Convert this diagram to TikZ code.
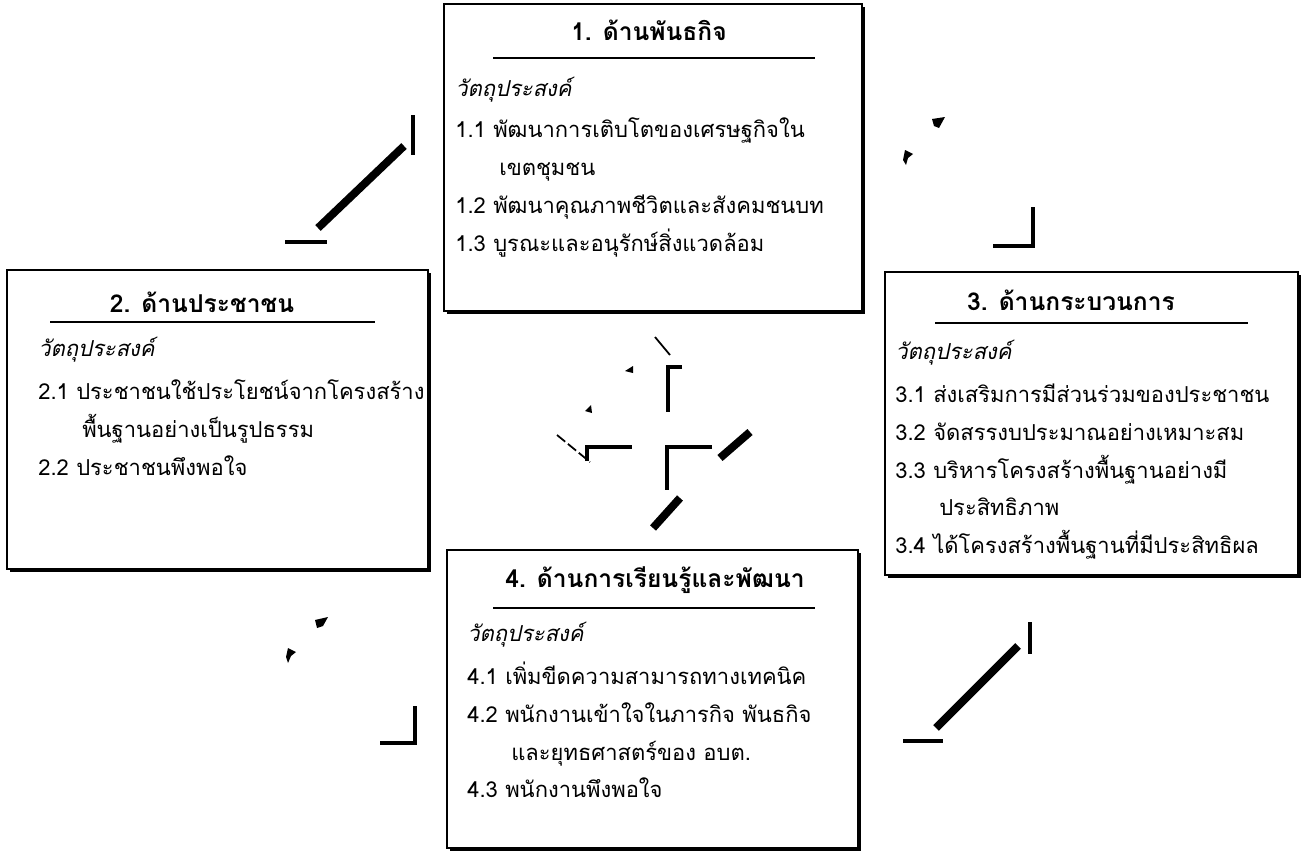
\documentclass[tikz,border=0pt]{standalone}
\usepackage{fontspec}
\newfontfamily\thaifont[Script=Thai]{Loma}
\usetikzlibrary{fit,shadows}
\tikzset{
  panel/.style={draw=black, fill=white, line width=0.8pt, inner sep=0pt,
                drop shadow={shadow xshift=1.8pt, shadow yshift=-1.8pt, fill=black, opacity=1}},
  head/.style={font=\thaifont\bfseries\fontsize{14}{16}\selectfont, inner sep=0pt},
  items/.style={font=\thaifont\fontsize{12.5}{21.5}\selectfont, align=left,
                anchor=north west, inner sep=0pt},
  rule/.style={line width=0.8pt},
  frag/.style={line width=4.5pt},
  stub/.style={line width=2.4pt},
  thinfrag/.style={line width=1pt}
}
\newcommand{\goal}{\textit{วัตถุประสงค์}}
\newcommand{\cont}{\hspace*{25pt}}

\begin{document}
\begin{tikzpicture}[x=0.02cm, y=-0.02cm]
  \useasboundingbox (0,0) rectangle (1307,855);

  % the four boxes
  \node[panel, fit={(444,4) (862,311)}] (mission) {};
  \node[panel, fit={(7,270) (428,569)}] (people) {};
  \node[panel, fit={(885,272) (1298,575)}] (process) {};
  \node[panel, fit={(447,550) (858,848)}] (learn) {};

  % box 1
  \node[head] (t1) at (649,30) {1. ด้านพันธกิจ};
  \draw[rule] (493,58) -- (815,58);
  \node[items] (g1) at (455,77) {\goal\\[2pt]
    1.1 พัฒนาการเติบโตของเศรษฐกิจใน\\
    \cont เขตชุมชน\\
    1.2 พัฒนาคุณภาพชีวิตและสังคมชนบท\\
    1.3 บูรณะและอนุรักษ์สิ่งแวดล้อม};

  % box 2
  \node[head] (t2) at (202,302) {2. ด้านประชาชน};
  \draw[rule] (50,322) -- (375,322);
  \node[items] (g2) at (38,337) {\goal\\[3pt]
    2.1 ประชาชนใช้ประโยชน์จากโครงสร้าง\\
    \cont พื้นฐานอย่างเป็นรูปธรรม\\
    2.2 ประชาชนพึงพอใจ};

  % box 3
  \node[head] (t3) at (1071,300) {3. ด้านกระบวนการ};
  \draw[rule] (935,323) -- (1248,323);
  \node[items] (g3) at (895,340) {\goal\\[3pt]
    3.1 ส่งเสริมการมีส่วนร่วมของประชาชน\\
    3.2 จัดสรรงบประมาณอย่างเหมาะสม\\
    3.3 บริหารโครงสร้างพื้นฐานอย่างมี\\
    \cont ประสิทธิภาพ\\
    3.4 ได้โครงสร้างพื้นฐานที่มีประสิทธิผล};

  % box 4
  \node[head] (t4) at (655,580) {4. ด้านการเรียนรู้และพัฒนา};
  \draw[rule] (493,608) -- (815,608);
  \node[items] (g4) at (467,622) {\goal\\[3pt]
    4.1 เพิ่มขีดความสามารถทางเทคนิค\\
    4.2 พนักงานเข้าใจในภารกิจ พันธกิจ\\
    \cont และยุทธศาสตร์ของ อบต.\\
    4.3 พนักงานพึงพอใจ};

  % arrow pieces between the boxes
  \draw[stub] (413,115) -- (413,155);
  \draw[frag] (404,146) -- (318,228);
  \draw[stub] (285,242) -- (327,242);

  \fill (932,119) -- (945,117) -- (939,128) -- (934,126) -- cycle;
  \fill (905,150) -- (913,154) -- (908,158) -- (906,165) -- (903,160) -- cycle;
  \draw[stub] (993,246) -- (1033,246) -- (1033,207);

  \draw[stub] (1030,622) -- (1030,654);
  \draw[frag] (1018,646) -- (936,728);
  \draw[stub] (903,741) -- (943,741);

  \fill (315,620) -- (328,617) -- (323,626) -- (317,628) -- cycle;
  \fill (288,648) -- (296,652) -- (291,656) -- (288,663) -- (286,657) -- cycle;
  \draw[stub] (380,743) -- (415,743) -- (415,706);

  % centre pieces
  \draw[thinfrag] (655,337) -- (670,355);
  \fill (625,371) -- (633,366) -- (633,373) -- cycle;
  \draw[stub] (682,367) -- (668,367) -- (668,412);
  \fill (585,411) -- (591,405) -- (592,413) -- cycle;
  \draw[thinfrag, dash pattern=on 6pt off 2pt] (557,435) -- (590,462);
  \draw[stub] (587,461) -- (587,447) -- (632,447);
  \draw[stub] (712,447) -- (667,447) -- (667,490);
  \draw[frag] (720,458) -- (750,432);
  \draw[frag] (653,528) -- (680,498);
\end{tikzpicture}
\end{document}
